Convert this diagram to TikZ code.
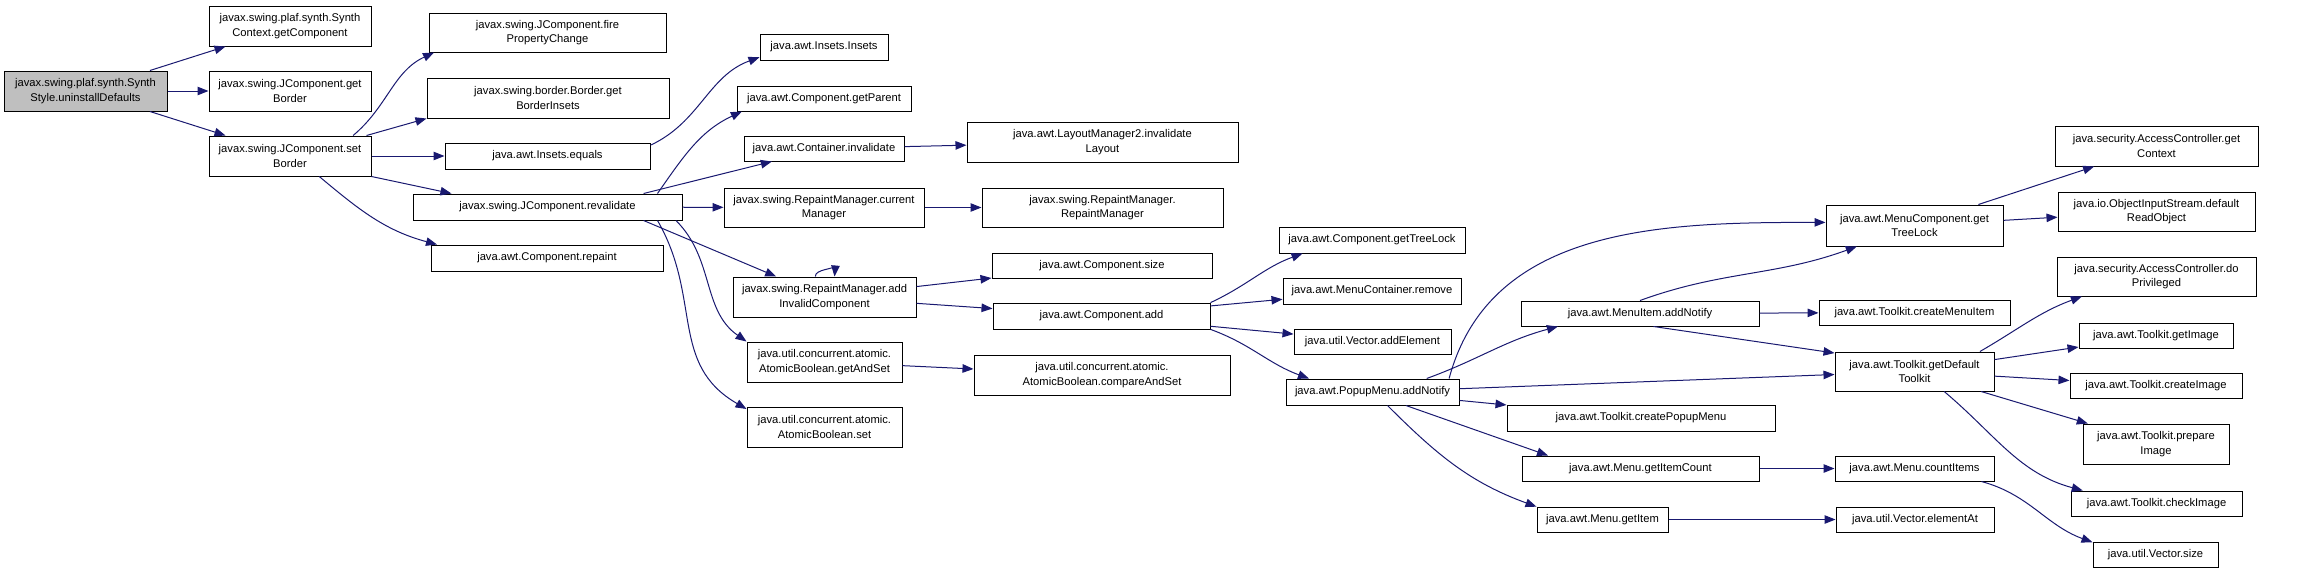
\documentclass[tikz,border=0pt]{standalone}
\usepackage{fontspec}
\setmainfont{Liberation Sans}
\usepackage{tikz}
\usetikzlibrary{arrows.meta}
\definecolor{edgeblue}{HTML}{191970}
\tikzset{
    every node/.style={rectangle, draw=black, fill=white, line width=1pt,
    	align=center, inner sep=0pt, font=\fontsize{11.2}{14.6}\selectfont}
}
\tikzset{
    every edge/.append style={draw=edgeblue, line width=1pt,
    	-{Triangle[length=11pt,width=8.5pt]}}
}
\tikzset{
	sz/.style 2 args={minimum width=#1pt, minimum height=#2pt}
}

\begin{document}
\begin{tikzpicture}[x=1pt,y=-1pt]
	\useasboundingbox (0,0) rectangle (2304,573);
	% first column
	\node[sz={163}{40}, fill=black!25] (root) at (85.5,91) {javax.swing.plaf.synth.Synth\\Style.uninstallDefaults};
	\node[sz={162}{40}] (n1) at (290,26) {javax.swing.plaf.synth.Synth\\Context.getComponent};
	\node[sz={162}{40}] (n2) at (290,91) {javax.swing.JComponent.get\\Border};
	\node[sz={162}{40}] (n3) at (290,156) {javax.swing.JComponent.set\\Border};
	% second column
	\node[sz={237}{39}] (fire) at (547.5,32.5) {javax.swing.JComponent.fire\\PropertyChange};
	\node[sz={242}{40}] (gbi) at (548,98) {javax.swing.border.Border.get\\BorderInsets};
	\node[sz={205}{26}] (eq) at (547.5,156) {java.awt.Insets.equals};
	\node[sz={269}{26}] (rv) at (547.5,207) {javax.swing.JComponent.revalidate};
	\node[sz={232}{26}] (rp) at (547,258) {java.awt.Component.repaint};
	% third column
	\node[sz={128}{26}] (ii) at (824,47) {java.awt.Insets.Insets};
	\node[sz={174}{25}] (gp) at (824,98.5) {java.awt.Component.getParent};
	\node[sz={160}{25}] (ci) at (824,148.5) {java.awt.Container.invalidate};
	\node[sz={200}{39}] (cm) at (824,207.5) {javax.swing.RepaintManager.current\\Manager};
	\node[sz={183}{40}] (ai) at (824.5,297) {javax.swing.RepaintManager.add\\InvalidComponent};
	\node[sz={155}{40}] (gas) at (824.5,362) {java.util.concurrent.atomic.\\AtomicBoolean.getAndSet};
	\node[sz={155}{40}] (abs) at (824.5,427) {java.util.concurrent.atomic.\\AtomicBoolean.set};
	% fourth column
	\node[sz={271}{40}] (lm) at (1102.5,142) {java.awt.LayoutManager2.invalidate\\Layout};
	\node[sz={241}{39}] (rm) at (1102.5,207.5) {javax.swing.RepaintManager.\\RepaintManager};
	\node[sz={220}{25}] (size) at (1102,265.5) {java.awt.Component.size};
	\node[sz={217}{26}] (ca) at (1101.5,316) {java.awt.Component.add};
	\node[sz={256}{40}] (cas) at (1102,375) {java.util.concurrent.atomic.\\AtomicBoolean.compareAndSet};
	% fifth column
	\node[sz={186}{26}] (gtl) at (1372,240) {java.awt.Component.getTreeLock};
	\node[sz={178}{26}] (mcr) at (1372,291) {java.awt.MenuContainer.remove};
	\node[sz={157}{25}] (vae) at (1372.5,341.5) {java.util.Vector.addElement};
	\node[sz={173}{26}] (pm) at (1372.5,392) {java.awt.PopupMenu.addNotify};
	% sixth column
	\node[sz={238}{25}] (mi) at (1640,313.5) {java.awt.MenuItem.addNotify};
	\node[sz={268}{26}] (cpm) at (1641,418) {java.awt.Toolkit.createPopupMenu};
	\node[sz={237}{25}] (gic) at (1640.5,468.5) {java.awt.Menu.getItemCount};
	\node[sz={131}{25}] (gi) at (1602.5,519.5) {java.awt.Menu.getItem};
	% seventh column
	\node[sz={177}{41}] (mct) at (1914.5,225.5) {java.awt.MenuComponent.get\\TreeLock};
	\node[sz={191}{25}] (cmi) at (1914.5,312.5) {java.awt.Toolkit.createMenuItem};
	\node[sz={159}{39}] (gdt) at (1914.5,371.5) {java.awt.Toolkit.getDefault\\Toolkit};
	\node[sz={159}{25}] (cnt) at (1914.5,468.5) {java.awt.Menu.countItems};
	\node[sz={158}{25}] (ea) at (1915,519.5) {java.util.Vector.elementAt};
	% last column
	\node[sz={203}{40}] (gctx) at (2156.5,146) {java.security.AccessController.get\\Context};
	\node[sz={197}{39}] (dro) at (2156.5,211.5) {java.io.ObjectInputStream.default\\ReadObject};
	\node[sz={199}{39}] (dp) at (2156.5,276.5) {java.security.AccessController.do\\Privileged};
	\node[sz={154}{25}] (gim) at (2156,335.5) {java.awt.Toolkit.getImage};
	\node[sz={172}{25}] (cim) at (2156,385.5) {java.awt.Toolkit.createImage};
	\node[sz={146}{40}] (pim) at (2156,444) {java.awt.Toolkit.prepare\\Image};
	\node[sz={171}{25}] (chk) at (2156.5,503.5) {java.awt.Toolkit.checkImage};
	\node[sz={125}{25}] (vs) at (2155.5,554.5) {java.util.Vector.size};

	\draw (root) edge (n1); \draw (root) edge (n2); \draw (root) edge (n3);
	\draw (n3.18) edge[out=40,in=205] (fire.190);
	\draw (n3.15) edge (gbi.south west); \draw (n3) edge (eq);
	\draw (n3.south east) edge (rv.172);
	\draw (n3.-35) edge[out=-40,in=165] (rp.173);
	\draw (eq.6) edge[out=25,in=200] (ii.189);
	\draw (rv.7) edge[out=55,in=205] (gp.189); \draw (rv.8) edge (ci);
	\draw (rv) edge (cm); \draw (rv.-8) edge (ai.157);
	\draw (rv.-6) edge[out=-45,in=145] (gas.north west);
	\draw (rv.-7) edge[out=-60,in=150,looseness=1.1] (abs.167);
	\draw (ci) edge (lm); \draw (cm) edge (rm);
	\draw (ai.114) edge[out=95,in=85] (ai.64);
	\draw (ai) edge (size); \draw (ai) edge (ca); \draw (gas) edge (cas);
	\draw (ca.7) edge[out=25,in=200] (gtl.191);
	\draw (ca) edge (mcr); \draw (ca) edge (vae);
	\draw (ca.-7) edge[out=-20,in=160] (pm.168);
	\draw (pm.14) edge[out=20,in=195] (mi.189);
	\draw (pm.10) edge[out=75,in=180] (mct.178);
	\draw (pm) edge (gdt); \draw (pm) edge (cpm);
	\draw (pm.-22) edge (gic.172);
	\draw (pm.-42) edge[out=-45,in=160] (gi.169);
	\draw (mi.north) edge[out=20,in=200] (mct.200); \draw (mi) edge (cmi);
	\draw (mi.-44) edge (gdt.167);
	\draw (mct) edge (gctx); \draw (mct) edge (dro);
	\draw (gdt.17) edge[out=30,in=200] (dp.195);
	\draw (gdt) edge (gim); \draw (gdt) edge (cim); \draw (gdt) edge (pim);
	\draw (gdt.-34) edge[out=-40,in=165] (chk.170);
	\draw (gic) edge (cnt); \draw (gi) edge (ea);
	\draw (cnt.-11) edge[out=-15,in=160] (vs.169);
\end{tikzpicture}
\end{document}
